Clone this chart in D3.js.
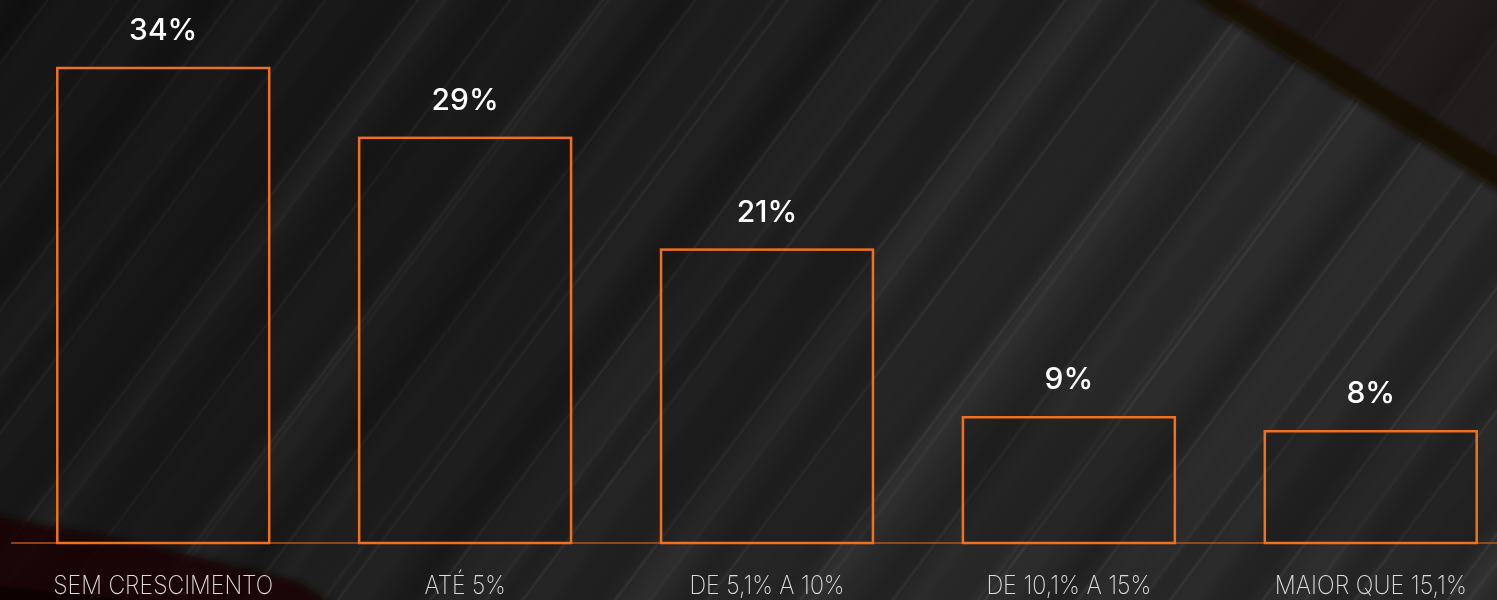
<!DOCTYPE html>
<html>
<head>
<meta charset="utf-8">
<script src="https://cdn.jsdelivr.net/npm/d3@7"></script>
<style>
  html, body { margin: 0; padding: 0; background: #1b1b1b; overflow: hidden; }
  svg { display: block; }
</style>
</head>
<body>
<div class="container"></div>
<script>
// chart data
const categories = ["SEM CRESCIMENTO", "ATÉ 5%", "DE 5,1% A 10%", "DE 10,1% A 15%", "MAIOR QUE 15,1%"];
const values = [34, 29, 21, 9, 8];
const valueLabels = ["34%", "29%", "21%", "9%", "8%"];
// measured label widths so the condensed look stays close
const labelWidths = [220, 81, 155, 165, 192];

const W = 1497, H = 600;
const container = d3.select("div.container");
const svg = container.append("svg").attr("width", W).attr("height", H);
const defs = svg.append("defs");

//background stripes, two periods so the pattern looks less regular
function stripeGradient(id, period, stops) {
    const g = defs.append("linearGradient")
        .attr("id", id)
        .attr("gradientUnits", "userSpaceOnUse")
        .attr("spreadMethod", "repeat")
        .attr("x1", 0).attr("y1", 0)
        .attr("x2", 0.8 * period).attr("y2", 0.6 * period);
    stops.forEach(s => {
        g.append("stop").attr("offset", s[0]).attr("stop-color", s[1]).attr("stop-opacity", s[2]);
    });
}
stripeGradient("stripesA", 74, [[0, "#000", 0.0], [0.3, "#000", 0.16], [0.48, "#000", 0.05],
    [0.5, "#fff", 0.02], [0.52, "#fff", 0.07], [0.54, "#fff", 0.01], [0.8, "#fff", 0.02], [1, "#000", 0.0]]);
stripeGradient("stripesB", 131, [[0, "#000", 0.0], [0.2, "#000", 0.12], [0.4, "#000", 0.0],
    [0.7, "#fff", 0.03], [0.72, "#fff", 0.06], [0.74, "#fff", 0.02], [1, "#000", 0.0]]);

const shade = defs.append("linearGradient").attr("id", "shade")
    .attr("x1", 0).attr("y1", 0).attr("x2", 1).attr("y2", 0.4);
shade.append("stop").attr("offset", 0).attr("stop-color", "#000").attr("stop-opacity", 0.4);
shade.append("stop").attr("offset", 0.55).attr("stop-color", "#000").attr("stop-opacity", 0.08);
shade.append("stop").attr("offset", 1).attr("stop-color", "#fff").attr("stop-opacity", 0.03);

defs.append("filter").attr("id", "soft")
    .attr("x", "-10%").attr("y", "-10%").attr("width", "120%").attr("height", "120%")
    .append("feGaussianBlur").attr("stdDeviation", 3);

svg.append("rect").attr("width", W).attr("height", H).attr("fill", "#212121");
svg.append("rect").attr("width", W).attr("height", H).attr("fill", "url(#stripesA)");
svg.append("rect").attr("width", W).attr("height", H).attr("fill", "url(#stripesB)");
svg.append("rect").attr("width", W).attr("height", H).attr("fill", "url(#shade)");

//dark red bands (top right and bottom left)
const deco = svg.append("g").attr("filter", "url(#soft)");
deco.append("path")
    .attr("d", "M1215,-10 L1510,-10 L1510,165 Z")
    .attr("fill", "#22120f").attr("opacity", 0.6);
deco.append("path")
    .attr("d", "M1182,-10 L1228,-10 L1510,165 L1510,198 Z")
    .attr("fill", "#1a0907").attr("opacity", 0.92);
deco.append("path")
    .attr("d", "M-10,515 L120,538 L300,582 L340,610 L-10,610 Z")
    .attr("fill", "#180806").attr("opacity", 0.8);
deco.append("path")
    .attr("d", "M-10,585 L220,610 L-10,610 Z")
    .attr("fill", "#100504").attr("opacity", 0.7);

//scales
const x = d3.scaleBand()
    .domain(categories)
    .range([12, 12 + 5 * 302])
    .paddingInner(0.298)
    .paddingOuter(0.15);

const y = d3.scaleLinear()
    .domain([0, 34])
    .range([543, 68]);

const chart = svg.append("g");

//baseline
chart.append("line")
    .attr("x1", 11).attr("x2", W)
    .attr("y1", y(0)).attr("y2", y(0))
    .attr("stroke", "#b4561d")
    .attr("stroke-width", 1.5);

//bars
chart.selectAll("rect.bar")
    .data(values)
    .enter()
    .append("rect")
    .attr("class", "bar")
    .attr("x", (d, i) => x(categories[i]))
    .attr("y", d => y(d))
    .attr("width", x.bandwidth())
    .attr("height", d => y(0) - y(d))
    .attr("fill", "#141414")
    .attr("fill-opacity", 0.25)
    .attr("stroke", "#f07021")
    .attr("stroke-width", 2.5);

//value labels
chart.selectAll("text.value")
    .data(values)
    .enter()
    .append("text")
    .attr("class", "value")
    .attr("x", (d, i) => x(categories[i]) + x.bandwidth() / 2)
    .attr("y", d => y(d) - 28)
    .attr("text-anchor", "middle")
    .style("font-family", "Inter, 'Noto Sans', sans-serif")
    .style("font-weight", 500)
    .style("font-size", "30px")
    .attr("fill", "#ffffff")
    .text((d, i) => valueLabels[i]);

//category labels
chart.selectAll("text.cat")
    .data(categories)
    .enter()
    .append("text")
    .attr("class", "cat")
    .attr("x", (d, i) => x(d) + x.bandwidth() / 2 - labelWidths[i] / 2)
    .attr("y", 594)
    .attr("textLength", (d, i) => labelWidths[i])
    .attr("lengthAdjust", "spacingAndGlyphs")
    .style("font-family", "Inter, 'Noto Sans', sans-serif")
    .style("font-weight", 200)
    .style("font-size", "26px")
    .attr("fill", "#dcdcdc")
    .text(d => d);
</script>
</body>
</html>
